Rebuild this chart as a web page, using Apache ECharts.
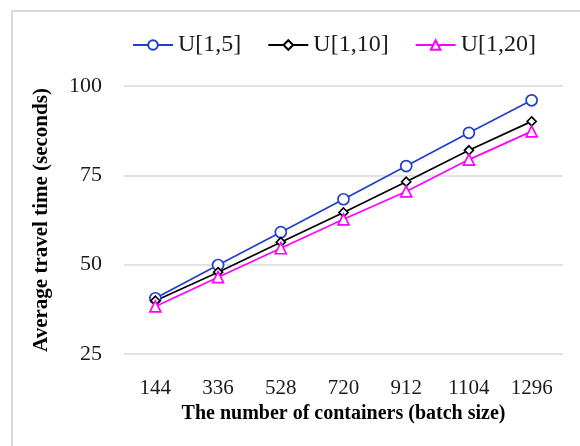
<!DOCTYPE html>
<html>
<head>
<meta charset="utf-8">
<script src="https://cdn.jsdelivr.net/npm/echarts@6/dist/echarts.min.js"></script>
<style>
  html, body { margin: 0; padding: 0; background: #fff; }
  #chart { width: 580px; height: 446px; }
</style>
</head>
<body>
<div id="chart"></div>
<script>
// Batch sizes (number of containers)
const batchSizes = ['144', '336', '528', '720', '912', '1104', '1296'];

// Average travel time (seconds) per arrival-interval distribution
const u1to5  = [40.6, 49.9, 59.1, 68.3, 77.6, 86.9, 96.0];
const u1to10 = [39.9, 47.9, 56.3, 64.6, 73.2, 82.0, 90.1];
const u1to20 = [38.3, 46.5, 54.6, 62.7, 70.5, 79.4, 87.3];

// Y axis ticks
const yMin = 25, yMax = 100, yStep = 25;

const serif = '"Liberation Serif", "Times New Roman", serif';

function lineSeries(name, data, color, symbol, size) {
  return {
    name: name,
    type: 'line',
    data: data,
    symbol: symbol,
    symbolSize: size,
    showAllSymbol: true,
    lineStyle: { color: color, width: 1.7 },
    itemStyle: { color: '#fff', borderColor: color, borderWidth: 1.7 },
    emphasis: { disabled: true },
    z: 3
  };
}

const chart = echarts.init(document.getElementById('chart'), null, { renderer: 'canvas' });
chart.setOption({
  animation: false,
  backgroundColor: '#fff',
  color: ['#1f3fcc', '#000000', '#ff00ff'],
  graphic: [{
    type: 'rect',
    shape: { x: 12, y: 11, width: 600, height: 460 },
    style: { fill: 'none', stroke: '#d9d9d9', lineWidth: 2 },
    silent: true,
    z: -1
  }],
  legend: {
    left: 127,
    top: 28,
    itemWidth: 40,
    itemHeight: 12,
    itemGap: 26,
    textStyle: { fontFamily: serif, fontSize: 24, color: '#1a1a1a' },
    data: ['U[1,5]', 'U[1,10]', 'U[1,20]']
  },
  grid: { left: 124, right: 17, top: 86, bottom: 92 },
  xAxis: {
    type: 'category',
    data: batchSizes,
    boundaryGap: true,
    axisLine: { show: false },
    axisTick: { show: false },
    axisLabel: { fontFamily: serif, fontSize: 21, color: '#1a1a1a', margin: 24 },
    name: 'The number of containers (batch size)',
    nameLocation: 'middle',
    nameGap: 40,
    nameTextStyle: { fontFamily: serif, fontSize: 20, fontWeight: 'bold', color: '#000' }
  },
  yAxis: {
    type: 'value',
    min: yMin,
    max: yMax,
    interval: yStep,
    axisLine: { show: false },
    axisTick: { show: false },
    splitLine: { lineStyle: { color: '#d9d9d9', width: 1.5 } },
    axisLabel: { fontFamily: serif, fontSize: 22, color: '#1a1a1a', margin: 22 },
    name: 'Average travel time (seconds)',
    nameLocation: 'middle',
    nameGap: 72,
    nameTextStyle: { fontFamily: serif, fontSize: 21, fontWeight: 'bold', color: '#000' }
  },
  series: [
    lineSeries('U[1,5]', u1to5, '#1f3fcc', 'circle', 11),
    lineSeries('U[1,10]', u1to10, '#000000', 'diamond', 9),
    lineSeries('U[1,20]', u1to20, '#ff00ff', 'triangle', 11)
  ]
});
</script>
</body>
</html>
